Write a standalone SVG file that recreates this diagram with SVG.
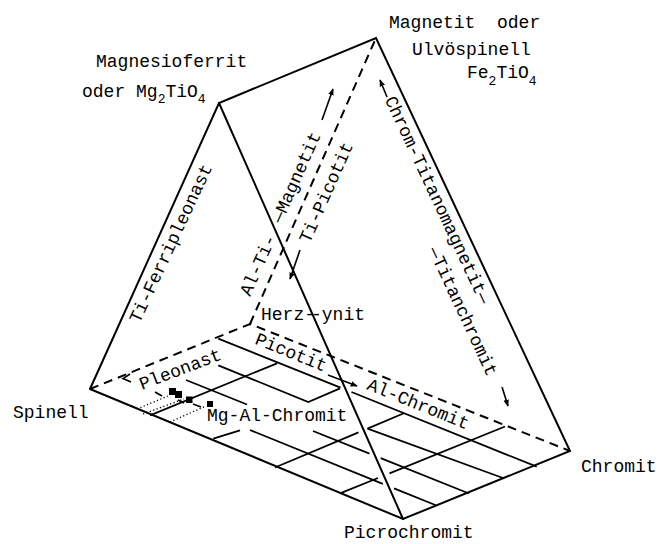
<svg xmlns="http://www.w3.org/2000/svg" width="670" height="544" viewBox="0 0 670 544">
<style>
.e{stroke:#000;stroke-width:2;fill:none;stroke-linecap:round}
.d{stroke:#000;stroke-width:2;fill:none;stroke-dasharray:9 6}
.g{stroke:#000;stroke-width:1.8;fill:none}
.a{stroke:#000;stroke-width:1.6;fill:none}
.dot{stroke:#000;stroke-width:1.3;stroke-dasharray:1.2 2.4;fill:none}
.t{font-family:"Liberation Mono","Courier New",monospace;font-size:18px;fill:#000}
.s{font-size:13px}
</style>
<defs>
<marker id="ah" viewBox="0 0 10 10" refX="9" refY="5" markerWidth="7" markerHeight="7" markerUnits="userSpaceOnUse" orient="auto"><path d="M0,1 L10,5 L0,9 z" fill="#000"/></marker>
</defs>
<g id="connectors">
<path class="e" d="M90,389 L219,103 L376,38 L570,451 L403,519 L90,389"/>
<path class="e" d="M219,103 L403,519"/>
<path class="d" d="M90,389 L250,324 L570,451"/>
<path class="d" d="M250,324 L376,38"/>
</g>
<g id="grid">
<path class="g" d="M218.3,338.7 L340.5,387.6 M351.5,392 L536.7,466.7"/>
<path class="g" d="M150,415.3 L277,363.3"/>
<path class="g" d="M218.3,365.3 L308.3,402 L340,388.3"/>
<path class="g" d="M186,380 L247,404.5"/>
<path class="g" d="M213.3,438.7 L240,430.3"/>
<path class="g" d="M250,430 L382.8,483.8 M394,488.4 L436.5,505.5"/>
<path class="g" d="M313,431 L369.5,453.6 M380.7,458.1 L469,493.5"/>
<path class="g" d="M275,467.5 L358.5,432.4 M367.5,428.6 L403.3,413.5"/>
<path class="g" d="M367.5,428.6 L503,478"/>
<path class="g" d="M340,493.3 L378,478 M389.5,473.3 L505,426.5"/>
</g>
<g id="data">
<rect x="169" y="388" width="7" height="7"/>
<rect x="175" y="391" width="7" height="7"/>
<rect x="186" y="396.5" width="6.5" height="6.5"/>
<rect x="207" y="401" width="6" height="6"/>
<path class="dot" d="M137,409 L168,396 M143,414 L184,399 M170,422 L206,406"/>
<path class="a" d="M155,392 L162,396 M178,400 L184,403 M193,404 L201,407"/>
<path class="a" d="M130,374 L123,378.5 L131,382"/>
</g>
<g id="labels">
<text class="t" x="96" y="67">Magnesioferrit</text>
<text class="t" x="82" y="97">oder Mg<tspan class="s" dy="6">2</tspan><tspan dy="-6">TiO</tspan><tspan class="s" dy="6">4</tspan></text>
<text class="t" x="389" y="28" xml:space="preserve">Magnetit  oder</text>
<text class="t" x="412" y="55">Ulvöspinell</text>
<text class="t" x="467" y="78">Fe<tspan class="s" dy="7">2</tspan><tspan dy="-7">TiO</tspan><tspan class="s" dy="7">4</tspan></text>
<text class="t" x="13" y="418">Spinell</text>
<text class="t" x="581" y="472">Chromit</text>
<text class="t" x="344" y="538">Picrochromit</text>
<text class="t" x="261" y="320">Herz-</text>
<text class="t" x="311" y="320">-ynit</text>
<text class="t" x="207" y="421">Mg-Al-Chromit</text>
<text class="t" transform="translate(139.5,324) rotate(-65)">Ti-Ferripleonast</text>
<text class="t" transform="translate(250,297) rotate(-66)">Al-Ti-</text>
<text class="t" transform="translate(281.5,224) rotate(-66)">—Magnetit</text>
<path class="a" marker-end="url(#ah)" d="M322,120 L333,89"/>
<text class="t" transform="translate(309.5,244) rotate(-66)">Ti-Picotit</text>
<path class="a" marker-end="url(#ah)" d="M300,250 L290,279"/>
<text class="t" transform="translate(384.5,99.5) rotate(65)">Chrom-Titanomagnetit—</text>
<path class="a" marker-end="url(#ah)" d="M387,97 L380,80"/>
<text class="t" transform="translate(428,250) rotate(65)">—Titanchromit</text>
<path class="a" marker-end="url(#ah)" d="M502,387 L508,406"/>
<text class="t" transform="translate(142,390) rotate(-21)">Pleonast</text>
<text class="t" transform="translate(254,343.5) rotate(22)">Picotit</text>
<path class="a" marker-end="url(#ah)" d="M328,375 L357,386"/>
<text class="t" transform="translate(366,389) rotate(22)">Al-Chromit</text>
</g>
</svg>
